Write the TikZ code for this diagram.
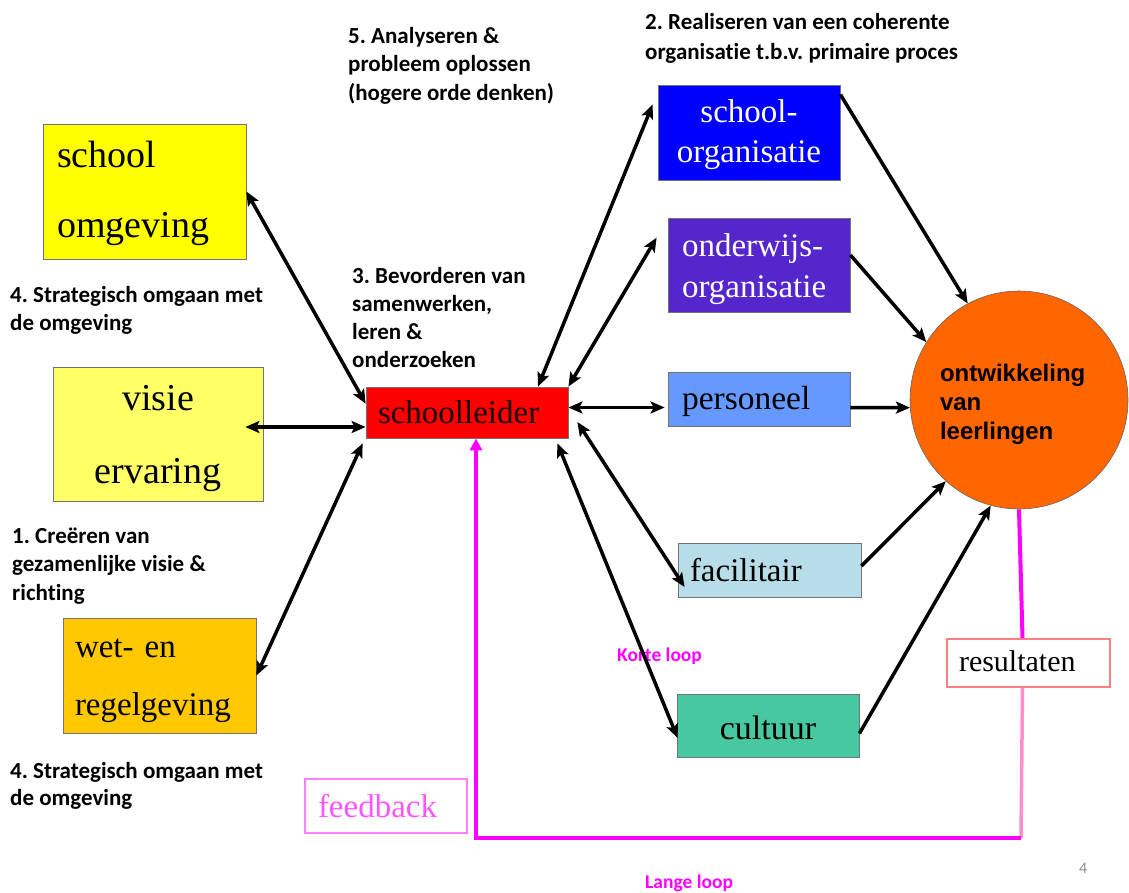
\documentclass[tikz,border=0pt]{standalone}
\usepackage{fontspec}
\setmainfont{Liberation Serif}
\newfontfamily\carl{Carlito}[Ligatures=NoCommon]
\newfontfamily\arl{Liberation Sans}
\usetikzlibrary{arrows.meta}
\newcommand\myH[1]{\rule{0pt}{#1pt}}
\newcommand\myD[1]{\rule[-#1pt]{0pt}{#1pt}}
\frenchspacing
\definecolor{cSO}{HTML}{FFFF00}
\definecolor{cVI}{HTML}{FFFF66}
\definecolor{cWE}{HTML}{FFC800}
\definecolor{cSL}{HTML}{FF0000}
\definecolor{cSG}{HTML}{0000FF}
\definecolor{cOW}{HTML}{5526CC}
\definecolor{cPE}{HTML}{6699FF}
\definecolor{cFA}{HTML}{B7DEE8}
\definecolor{cCU}{HTML}{47C8A0}
\definecolor{cOR}{HTML}{FF6600}
\definecolor{cMG}{HTML}{FF00FF}
\definecolor{cPK}{HTML}{FF8FCC}
\definecolor{cRB}{HTML}{FF7F7F}
\definecolor{cFB}{HTML}{FF80FF}
\definecolor{cFT}{HTML}{FF55FF}
\tikzset{
  box/.style={rectangle, draw=black!55, line width=0.8pt, inner ysep=0pt,
    execute at begin node=\setlength{\parindent}{0pt}},
  lab/.style={anchor=north west, inner sep=0pt, align=left,
    font=\carl\bfseries\fontsize{23}{28.5}\selectfont},
  loopl/.style={anchor=base west, inner sep=0pt, text=cMG,
    font=\carl\bfseries\fontsize{19.5}{20}\selectfont},
  biarrow/.style={{Stealth[length=14pt,width=12pt,inset=3pt]}-{Stealth[length=14pt,width=12pt,inset=3pt]}, line width=3.5pt},
  onearrow/.style={-{Stealth[length=14pt,width=12pt,inset=3pt]}, line width=3.5pt},
}
\begin{document}
\begin{tikzpicture}[x=1pt,y=-1pt]
\useasboundingbox (0,0) rectangle (1129,893);

% left boxes
\node[box, fill=cSO, minimum width=203pt, minimum height=135pt, text width=175pt, inner xsep=14pt, align=left,
  font=\fontsize{38}{70}\selectfont] (so) at (144.5,191.5) {\myH{32}school\\omgeving\myD{9}};
\node[box, fill=cVI, minimum width=210pt, minimum height=134pt, align=center,
  font=\fontsize{38}{73}\selectfont] (vi) at (158,434) {\myH{34}visie\\ervaring\myD{9}};
\node[box, fill=cWE, minimum width=193pt, minimum height=115pt, text width=169pt, inner xsep=12pt, align=left,
  font=\fontsize{33}{58}\selectfont] (we) at (159.5,675.5) {\myH{29}wet- en\\regelgeving\myD{8}};

% centre
\node[box, fill=cSL, minimum width=202pt, minimum height=51pt, text width=178pt, inner xsep=12pt, align=left,
  text=black!90!red, font=\fontsize{33}{40}\selectfont] (sl) at (467,412.5) {\myH{25}schoolleider\myD{4}};

% right boxes
\node[box, fill=cSG, minimum width=182pt, minimum height=95pt, align=center, text=white,
  font=\fontsize{33}{40}\selectfont] (sorg) at (749,132.5) {\myH{29}school-\\organisatie\myD{8}};
\node[box, fill=cOW, minimum width=182pt, minimum height=94pt, text width=154pt, inner xsep=14pt, align=left, text=white,
  font=\fontsize{33}{40}\selectfont] (ow) at (759,265) {\myH{31.5}onderwijs-\\organisatie\myD{7.5}};
\node[box, fill=cPE, minimum width=182pt, minimum height=54pt, text width=154pt, inner xsep=14pt, align=left,
  font=\fontsize{33.5}{40}\selectfont] (pe) at (759,399) {\myH{28}personeel\myD{8}};
\node[box, fill=cFA, minimum width=183pt, minimum height=54pt, text width=159pt, inner xsep=12pt, align=left,
  font=\fontsize{33}{40}\selectfont] (fa) at (769.5,570) {\myH{27}facilitair\myD{3.5}};
\node[box, fill=cCU, minimum width=182pt, minimum height=63pt, align=center,
  font=\fontsize{34}{40}\selectfont] (cu) at (768,725.5) {\myH{30}cultuur\myD{3}};

% outcome circle
\node[circle, minimum size=218pt, inner sep=0pt, fill=cOR, draw=black!60, line width=0.6pt,
  text width=158pt, align=left, execute at begin node=\setlength{\parindent}{0pt},
  font=\arl\bfseries\fontsize{24}{29}\selectfont] (c) at (1019,400)
  {\myH{27}ontwikkeling\\van\\leerlingen\myD{5}};

% feedback boxes
\node[box, fill=white, draw=cRB, line width=1.5pt, minimum width=163pt, minimum height=48pt, text width=139pt,
  inner xsep=12pt, align=left, font=\fontsize{30}{36}\selectfont] (re) at (1028.5,663) {\myH{21}resultaten\myD{3.6}};
\node[box, fill=white, draw=cFB, line width=1.5pt, minimum width=162pt, minimum height=54pt, text width=136pt,
  inner xsep=13pt, align=left, text=cFT, font=\fontsize{33}{40}\selectfont] (fb) at (386,806) {\myH{25}feedback\myD{3}};

% competence labels
\node[lab] (l5) at (348,25) {\myH{18}5. Analyseren \&\\probleem oplossen\\(hogere orde denken)};
\node[lab, font=\carl\bfseries\fontsize{23}{30}\selectfont] (l2) at (645,11) {\myH{18}2. Realiseren van een coherente\\organisatie t.b.v. primaire proces};
\node[lab, font=\carl\bfseries\fontsize{23}{28}\selectfont] (l4a) at (10,284) {\myH{18}4. Strategisch omgaan met\\de omgeving};
\node[lab, font=\carl\bfseries\fontsize{23}{28}\selectfont] (l3) at (352,265) {\myH{18}3. Bevorderen van\\samenwerken,\\leren \&\\onderzoeken};
\node[lab] (l1) at (12,525) {\myH{18}1. Creëren van\\gezamenlijke visie \&\\richting};
\node[lab, font=\carl\bfseries\fontsize{23}{27}\selectfont] (l4b) at (10,760) {\myH{18}4. Strategisch omgaan met\\de omgeving};

\node[loopl] (kl) at (617,661.7) {Korte loop};
\node[loopl] (ll) at (645,888) {Lange loop};
\node[anchor=base west, inner sep=0pt, text=black!45, font=\carl\fontsize{16}{18}\selectfont] (pg) at (1079,873) {4};

% black connectors, left side
\draw[biarrow] (so.east) -- (sl.175);
\draw[biarrow] ([xshift=-18pt,yshift=7pt]vi.east) -- ([yshift=-14.5pt]sl.west);
\draw[biarrow] (we.east) -- ([xshift=-3pt,yshift=-5pt]sl.south west);

% black connectors, right side
\draw[biarrow] ([xshift=71pt]sl.north) -- ([xshift=-5pt,yshift=-20pt]sorg.north west);
\draw[biarrow] (sl.north east) -- ([xshift=-11pt,yshift=-20pt]ow.north west);
\draw[biarrow] ([yshift=5pt]sl.east) -- ([xshift=-3pt,yshift=-8.5pt]pe.west);
\draw[biarrow] ([xshift=9pt,yshift=-9.5pt]sl.east) -- ([xshift=7pt,yshift=-17pt]fa.west);
\draw[biarrow] ([xshift=-11pt,yshift=-5pt]sl.south east) -- ([xshift=1pt,yshift=-12.5pt]cu.west);

% into the circle
\draw[onearrow] ([yshift=-10pt]sorg.north east) -- (c.118);
\draw[onearrow] ([yshift=10pt]ow.east) -- (c.148);
\draw[onearrow] ([yshift=-8.5pt]pe.east) -- (c.184);
\draw[onearrow] ([yshift=4pt]fa.east) -- (c.228);
\draw[onearrow] ([yshift=-8pt]cu.east) -- (c.255);

% feedback loop
\coordinate (lp) at (1021,838);
\draw[cMG, line width=4pt] (c.south) -- ([xshift=-6pt]re.north);
\draw[cPK, line width=3.5pt] ([xshift=-6pt]re.south) -- (lp);
\draw[cMG, line width=4pt, -{Triangle[length=12pt,width=12pt]}] (lp) -| ([xshift=9pt]sl.south);
\end{tikzpicture}
\end{document}
